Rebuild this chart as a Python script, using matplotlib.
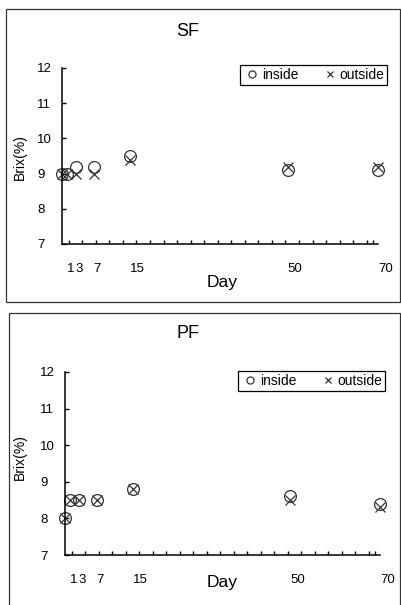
import numpy as np
import matplotlib
matplotlib.use("Agg")
import matplotlib.pyplot as plt
from matplotlib.patches import Rectangle

plt.rcParams['font.family'] = ['Liberation Sans', 'DejaVu Sans']

# data
days = [0, 1, 3, 7, 15, 50, 70]
sf_inside = [9.0, 9.0, 9.2, 9.2, 9.5, 9.1, 9.1]
sf_outside = [9.0, 9.0, 9.0, 9.0, 9.4, 9.2, 9.2]
pf_inside = [8.0, 8.5, 8.5, 8.5, 8.8, 8.6, 8.4]
pf_outside = [8.0, 8.5, 8.5, 8.5, 8.8, 8.5, 8.3]
day_labels = [1, 3, 7, 15, 50, 70]
brix_ticks = [7, 8, 9, 10, 11, 12]

W, H = 402, 605
fig = plt.figure(figsize=(W / 100, H / 100), dpi=100)


def fx(x):
    return x / W


def fy(y):
    return 1 - y / H


def box(x0, y0, x1, y1):
    return [fx(x0), fy(y1), (x1 - x0) / W, (y1 - y0) / H]


# outer frames of the two panels
for (x0, y0, x1, y1) in [(6.5, 8.5, 400.5, 301.5), (8.5, 312.5, 400.5, 640)]:
    fig.patches.append(Rectangle((fx(x0), fy(y1)), (x1 - x0) / W, (y1 - y0) / H,
                                 transform=fig.transFigure, fill=False,
                                 lw=0.9, ec='#333333'))


def panel(rect, title, inside, outside, title_y, day_y, brix_y, leg_x1, leg_y0):
    ax = fig.add_axes(rect)
    ax.plot(days, inside, ls='none', marker='o', ms=8.5, mfc='none', mec='#333333',
            mew=0.9, clip_on=False, label='inside')
    ax.plot(days, outside, ls='none', marker='x', ms=7.5, mec='#333333',
            mew=0.9, clip_on=False, label='outside')
    ax.set_xlim(0, 70)
    ax.set_ylim(7, 12)
    for s in ['top', 'right']:
        ax.spines[s].set_visible(False)
    for s in ['left', 'bottom']:
        ax.spines[s].set_linewidth(1.1)

    ax.set_yticks(brix_ticks)
    ax.tick_params(axis='y', direction='in', length=3, width=1, pad=18, labelsize=9.5)
    for lab in ax.get_yticklabels():
        lab.set_horizontalalignment('left')

    ax.set_xticks(day_labels)
    ax.set_xticks(list(np.arange(1.5, 69, 3)) + [69], minor=True)
    ax.tick_params(axis='x', which='major', length=0, pad=14, labelsize=9.5)
    ax.tick_params(axis='x', which='minor', direction='in', length=3, width=1)
    for lab in ax.get_xticklabels():
        lab.set_horizontalalignment('left')

    fig.text(fx(188), fy(title_y), title, ha='center', va='center', fontsize=13)
    ax.set_xlabel('Day', fontsize=12.5, va='center')
    ax.xaxis.set_label_coords(fx(222), fy(day_y), transform=fig.transFigure)
    ax.set_ylabel('Brix(%)', fontsize=10, va='center')
    ax.yaxis.set_label_coords(fx(20), fy(brix_y), transform=fig.transFigure)

    leg = ax.legend(ncol=2, loc='upper right', bbox_to_anchor=(fx(leg_x1), fy(leg_y0)),
                    bbox_transform=fig.transFigure, borderaxespad=0, fancybox=False,
                    edgecolor='black', framealpha=1, fontsize=10, handlelength=1.3,
                    handletextpad=0.05, markerscale=0.6, borderpad=0.2,
                    columnspacing=1.6)
    leg.get_frame().set_linewidth(0.9)
    return ax


panel(box(62, 68, 378, 244), 'SF', sf_inside, sf_outside, 32, 282, 157, 387, 65)
panel(box(65, 372, 380, 555), 'PF', pf_inside, pf_outside, 333, 582, 457, 385, 371)

fig.savefig('out.png', dpi=100)
